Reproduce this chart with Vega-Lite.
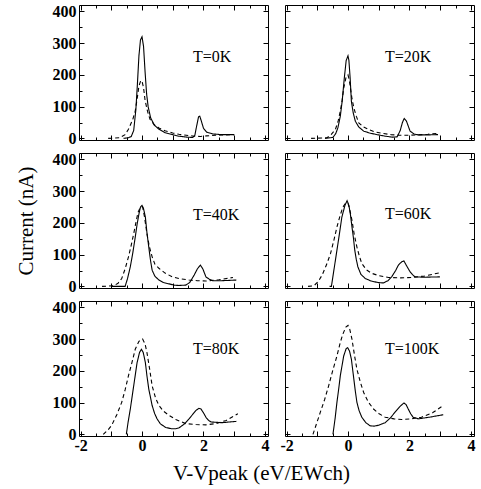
{
"$schema": "https://vega.github.io/schema/vega-lite/v6.json",
"padding": {"left": 15, "top": 3, "right": 5, "bottom": 5},
"autosize": {"type": "pad"},
"background": "white",
"config": {
  "font": "Times New Roman, Liberation Serif, DejaVu Serif, serif",
  "view": {"stroke": null},
  "text": {"font": "Times New Roman, Liberation Serif, DejaVu Serif, serif"},
  "axis": {"grid": false, "domainColor": "black", "domainWidth": 1, "tickColor": "black", "tickWidth": 1, "labelColor": "black", "labelFont": "Times New Roman, Liberation Serif, DejaVu Serif, serif", "labelFontSize": 16, "labelFontWeight": "bold", "labelOverlap": false, "labelBound": false, "labelFlush": false, "titleFont": "Times New Roman, Liberation Serif, DejaVu Serif, serif", "titleFontSize": 21, "titleFontWeight": "normal", "titleColor": "black"}
},
"datasets": {
  "labels": [
    {"T": "T=0K", "lx": 1.66, "ly": 256},
    {"T": "T=20K", "lx": 1.2, "ly": 256},
    {"T": "T=40K", "lx": 1.66, "ly": 225},
    {"T": "T=60K", "lx": 1.2, "ly": 228},
    {"T": "T=80K", "lx": 1.66, "ly": 269},
    {"T": "T=100K", "lx": 1.2, "ly": 269}
  ],
  "curves": [
    {"T":"T=0K","s":"solid","x":-0.6,"y":0},{"T":"T=0K","s":"solid","x":-0.45,"y":2},{"T":"T=0K","s":"solid","x":-0.35,"y":6},{"T":"T=0K","s":"solid","x":-0.27,"y":25},{"T":"T=0K","s":"solid","x":-0.2,"y":90},{"T":"T=0K","s":"solid","x":-0.15,"y":170},{"T":"T=0K","s":"solid","x":-0.1,"y":260},{"T":"T=0K","s":"solid","x":-0.05,"y":310},{"T":"T=0K","s":"solid","x":0,"y":320},{"T":"T=0K","s":"solid","x":0.05,"y":290},{"T":"T=0K","s":"solid","x":0.1,"y":210},{"T":"T=0K","s":"solid","x":0.15,"y":140},{"T":"T=0K","s":"solid","x":0.2,"y":100},{"T":"T=0K","s":"solid","x":0.28,"y":65},{"T":"T=0K","s":"solid","x":0.4,"y":42},{"T":"T=0K","s":"solid","x":0.55,"y":29},{"T":"T=0K","s":"solid","x":0.75,"y":18},{"T":"T=0K","s":"solid","x":1.0,"y":12},{"T":"T=0K","s":"solid","x":1.2,"y":7},{"T":"T=0K","s":"solid","x":1.45,"y":4},{"T":"T=0K","s":"solid","x":1.65,"y":3},{"T":"T=0K","s":"solid","x":1.72,"y":10},{"T":"T=0K","s":"solid","x":1.78,"y":40},{"T":"T=0K","s":"solid","x":1.84,"y":68},{"T":"T=0K","s":"solid","x":1.88,"y":70},{"T":"T=0K","s":"solid","x":1.93,"y":55},{"T":"T=0K","s":"solid","x":2.0,"y":32},{"T":"T=0K","s":"solid","x":2.1,"y":20},{"T":"T=0K","s":"solid","x":2.3,"y":14},{"T":"T=0K","s":"solid","x":2.6,"y":12},{"T":"T=0K","s":"solid","x":3.0,"y":12},
    {"T":"T=0K","s":"dashed","x":-1.1,"y":0},{"T":"T=0K","s":"dashed","x":-0.72,"y":2},{"T":"T=0K","s":"dashed","x":-0.55,"y":12},{"T":"T=0K","s":"dashed","x":-0.44,"y":29},{"T":"T=0K","s":"dashed","x":-0.3,"y":60},{"T":"T=0K","s":"dashed","x":-0.22,"y":86},{"T":"T=0K","s":"dashed","x":-0.15,"y":130},{"T":"T=0K","s":"dashed","x":-0.1,"y":165},{"T":"T=0K","s":"dashed","x":-0.04,"y":182},{"T":"T=0K","s":"dashed","x":0,"y":180},{"T":"T=0K","s":"dashed","x":0.05,"y":160},{"T":"T=0K","s":"dashed","x":0.1,"y":120},{"T":"T=0K","s":"dashed","x":0.18,"y":85},{"T":"T=0K","s":"dashed","x":0.26,"y":60},{"T":"T=0K","s":"dashed","x":0.4,"y":43},{"T":"T=0K","s":"dashed","x":0.55,"y":33},{"T":"T=0K","s":"dashed","x":0.75,"y":24},{"T":"T=0K","s":"dashed","x":1.0,"y":17},{"T":"T=0K","s":"dashed","x":1.2,"y":13},{"T":"T=0K","s":"dashed","x":1.44,"y":10},{"T":"T=0K","s":"dashed","x":1.7,"y":7},{"T":"T=0K","s":"dashed","x":1.9,"y":6},{"T":"T=0K","s":"dashed","x":2.1,"y":8},{"T":"T=0K","s":"dashed","x":2.4,"y":10},{"T":"T=0K","s":"dashed","x":2.7,"y":11},{"T":"T=0K","s":"dashed","x":3.0,"y":12},
    {"T":"T=20K","s":"solid","x":-0.75,"y":0},{"T":"T=20K","s":"solid","x":-0.5,"y":3},{"T":"T=20K","s":"solid","x":-0.46,"y":7},{"T":"T=20K","s":"solid","x":-0.4,"y":15},{"T":"T=20K","s":"solid","x":-0.33,"y":33},{"T":"T=20K","s":"solid","x":-0.25,"y":70},{"T":"T=20K","s":"solid","x":-0.19,"y":117},{"T":"T=20K","s":"solid","x":-0.12,"y":190},{"T":"T=20K","s":"solid","x":-0.06,"y":245},{"T":"T=20K","s":"solid","x":0,"y":260},{"T":"T=20K","s":"solid","x":0.03,"y":245},{"T":"T=20K","s":"solid","x":0.07,"y":190},{"T":"T=20K","s":"solid","x":0.11,"y":117},{"T":"T=20K","s":"solid","x":0.17,"y":80},{"T":"T=20K","s":"solid","x":0.24,"y":54},{"T":"T=20K","s":"solid","x":0.35,"y":36},{"T":"T=20K","s":"solid","x":0.51,"y":23},{"T":"T=20K","s":"solid","x":0.7,"y":17},{"T":"T=20K","s":"solid","x":0.89,"y":13},{"T":"T=20K","s":"solid","x":1.21,"y":7},{"T":"T=20K","s":"solid","x":1.45,"y":4},{"T":"T=20K","s":"solid","x":1.6,"y":5},{"T":"T=20K","s":"solid","x":1.7,"y":25},{"T":"T=20K","s":"solid","x":1.77,"y":50},{"T":"T=20K","s":"solid","x":1.83,"y":63},{"T":"T=20K","s":"solid","x":1.9,"y":55},{"T":"T=20K","s":"solid","x":2.02,"y":23},{"T":"T=20K","s":"solid","x":2.15,"y":14},{"T":"T=20K","s":"solid","x":2.29,"y":11},{"T":"T=20K","s":"solid","x":2.6,"y":11},{"T":"T=20K","s":"solid","x":2.93,"y":12},
    {"T":"T=20K","s":"dashed","x":-1.2,"y":0},{"T":"T=20K","s":"dashed","x":-0.68,"y":2},{"T":"T=20K","s":"dashed","x":-0.55,"y":12},{"T":"T=20K","s":"dashed","x":-0.41,"y":28},{"T":"T=20K","s":"dashed","x":-0.32,"y":55},{"T":"T=20K","s":"dashed","x":-0.25,"y":86},{"T":"T=20K","s":"dashed","x":-0.19,"y":120},{"T":"T=20K","s":"dashed","x":-0.14,"y":158},{"T":"T=20K","s":"dashed","x":-0.07,"y":190},{"T":"T=20K","s":"dashed","x":0,"y":200},{"T":"T=20K","s":"dashed","x":0.04,"y":185},{"T":"T=20K","s":"dashed","x":0.08,"y":158},{"T":"T=20K","s":"dashed","x":0.13,"y":125},{"T":"T=20K","s":"dashed","x":0.19,"y":96},{"T":"T=20K","s":"dashed","x":0.27,"y":70},{"T":"T=20K","s":"dashed","x":0.35,"y":49},{"T":"T=20K","s":"dashed","x":0.5,"y":36},{"T":"T=20K","s":"dashed","x":0.67,"y":28},{"T":"T=20K","s":"dashed","x":0.85,"y":21},{"T":"T=20K","s":"dashed","x":1.1,"y":16},{"T":"T=20K","s":"dashed","x":1.4,"y":12},{"T":"T=20K","s":"dashed","x":1.64,"y":10},{"T":"T=20K","s":"dashed","x":2.0,"y":10},{"T":"T=20K","s":"dashed","x":2.29,"y":11},{"T":"T=20K","s":"dashed","x":2.6,"y":13},{"T":"T=20K","s":"dashed","x":2.93,"y":16},
    {"T":"T=40K","s":"solid","x":-1.0,"y":0},{"T":"T=40K","s":"solid","x":-0.55,"y":0},{"T":"T=40K","s":"solid","x":-0.47,"y":25},{"T":"T=40K","s":"solid","x":-0.38,"y":62},{"T":"T=40K","s":"solid","x":-0.3,"y":105},{"T":"T=40K","s":"solid","x":-0.22,"y":155},{"T":"T=40K","s":"solid","x":-0.16,"y":195},{"T":"T=40K","s":"solid","x":-0.11,"y":223},{"T":"T=40K","s":"solid","x":-0.05,"y":250},{"T":"T=40K","s":"solid","x":0,"y":255},{"T":"T=40K","s":"solid","x":0.05,"y":245},{"T":"T=40K","s":"solid","x":0.11,"y":218},{"T":"T=40K","s":"solid","x":0.16,"y":170},{"T":"T=40K","s":"solid","x":0.22,"y":124},{"T":"T=40K","s":"solid","x":0.28,"y":80},{"T":"T=40K","s":"solid","x":0.33,"y":51},{"T":"T=40K","s":"solid","x":0.42,"y":32},{"T":"T=40K","s":"solid","x":0.55,"y":20},{"T":"T=40K","s":"solid","x":0.7,"y":12},{"T":"T=40K","s":"solid","x":0.88,"y":8},{"T":"T=40K","s":"solid","x":1.05,"y":4},{"T":"T=40K","s":"solid","x":1.2,"y":3},{"T":"T=40K","s":"solid","x":1.42,"y":4},{"T":"T=40K","s":"solid","x":1.55,"y":12},{"T":"T=40K","s":"solid","x":1.7,"y":36},{"T":"T=40K","s":"solid","x":1.8,"y":55},{"T":"T=40K","s":"solid","x":1.9,"y":67},{"T":"T=40K","s":"solid","x":1.98,"y":55},{"T":"T=40K","s":"solid","x":2.08,"y":30},{"T":"T=40K","s":"solid","x":2.2,"y":22},{"T":"T=40K","s":"solid","x":2.3,"y":18},{"T":"T=40K","s":"solid","x":2.6,"y":18},{"T":"T=40K","s":"solid","x":3.07,"y":20},
    {"T":"T=40K","s":"dashed","x":-1.3,"y":0},{"T":"T=40K","s":"dashed","x":-0.92,"y":2},{"T":"T=40K","s":"dashed","x":-0.78,"y":10},{"T":"T=40K","s":"dashed","x":-0.66,"y":25},{"T":"T=40K","s":"dashed","x":-0.55,"y":55},{"T":"T=40K","s":"dashed","x":-0.44,"y":93},{"T":"T=40K","s":"dashed","x":-0.35,"y":130},{"T":"T=40K","s":"dashed","x":-0.27,"y":166},{"T":"T=40K","s":"dashed","x":-0.2,"y":200},{"T":"T=40K","s":"dashed","x":-0.13,"y":233},{"T":"T=40K","s":"dashed","x":-0.05,"y":250},{"T":"T=40K","s":"dashed","x":0.02,"y":250},{"T":"T=40K","s":"dashed","x":0.08,"y":220},{"T":"T=40K","s":"dashed","x":0.16,"y":166},{"T":"T=40K","s":"dashed","x":0.24,"y":125},{"T":"T=40K","s":"dashed","x":0.33,"y":93},{"T":"T=40K","s":"dashed","x":0.42,"y":70},{"T":"T=40K","s":"dashed","x":0.55,"y":57},{"T":"T=40K","s":"dashed","x":0.75,"y":42},{"T":"T=40K","s":"dashed","x":0.99,"y":30},{"T":"T=40K","s":"dashed","x":1.25,"y":24},{"T":"T=40K","s":"dashed","x":1.53,"y":20},{"T":"T=40K","s":"dashed","x":1.8,"y":18},{"T":"T=40K","s":"dashed","x":2.08,"y":17},{"T":"T=40K","s":"dashed","x":2.5,"y":21},{"T":"T=40K","s":"dashed","x":2.96,"y":28},
    {"T":"T=60K","s":"solid","x":-0.6,"y":0},{"T":"T=60K","s":"solid","x":-0.54,"y":0},{"T":"T=60K","s":"solid","x":-0.45,"y":57},{"T":"T=60K","s":"solid","x":-0.36,"y":114},{"T":"T=60K","s":"solid","x":-0.28,"y":165},{"T":"T=60K","s":"solid","x":-0.2,"y":218},{"T":"T=60K","s":"solid","x":-0.1,"y":255},{"T":"T=60K","s":"solid","x":-0.03,"y":270},{"T":"T=60K","s":"solid","x":0.03,"y":255},{"T":"T=60K","s":"solid","x":0.08,"y":225},{"T":"T=60K","s":"solid","x":0.13,"y":187},{"T":"T=60K","s":"solid","x":0.18,"y":150},{"T":"T=60K","s":"solid","x":0.22,"y":114},{"T":"T=60K","s":"solid","x":0.27,"y":85},{"T":"T=60K","s":"solid","x":0.32,"y":62},{"T":"T=60K","s":"solid","x":0.42,"y":38},{"T":"T=60K","s":"solid","x":0.56,"y":25},{"T":"T=60K","s":"solid","x":0.75,"y":17},{"T":"T=60K","s":"solid","x":0.99,"y":12},{"T":"T=60K","s":"solid","x":1.15,"y":11},{"T":"T=60K","s":"solid","x":1.3,"y":18},{"T":"T=60K","s":"solid","x":1.42,"y":30},{"T":"T=60K","s":"solid","x":1.55,"y":50},{"T":"T=60K","s":"solid","x":1.64,"y":67},{"T":"T=60K","s":"solid","x":1.75,"y":78},{"T":"T=60K","s":"solid","x":1.82,"y":80},{"T":"T=60K","s":"solid","x":1.9,"y":66},{"T":"T=60K","s":"solid","x":2.02,"y":46},{"T":"T=60K","s":"solid","x":2.1,"y":37},{"T":"T=60K","s":"solid","x":2.18,"y":30},{"T":"T=60K","s":"solid","x":2.5,"y":29},{"T":"T=60K","s":"solid","x":2.99,"y":30},
    {"T":"T=60K","s":"dashed","x":-1.3,"y":0},{"T":"T=60K","s":"dashed","x":-1.11,"y":2},{"T":"T=60K","s":"dashed","x":-0.97,"y":15},{"T":"T=60K","s":"dashed","x":-0.84,"y":36},{"T":"T=60K","s":"dashed","x":-0.7,"y":68},{"T":"T=60K","s":"dashed","x":-0.57,"y":103},{"T":"T=60K","s":"dashed","x":-0.46,"y":145},{"T":"T=60K","s":"dashed","x":-0.36,"y":187},{"T":"T=60K","s":"dashed","x":-0.26,"y":222},{"T":"T=60K","s":"dashed","x":-0.17,"y":249},{"T":"T=60K","s":"dashed","x":-0.08,"y":262},{"T":"T=60K","s":"dashed","x":0,"y":262},{"T":"T=60K","s":"dashed","x":0.06,"y":240},{"T":"T=60K","s":"dashed","x":0.13,"y":208},{"T":"T=60K","s":"dashed","x":0.2,"y":165},{"T":"T=60K","s":"dashed","x":0.29,"y":124},{"T":"T=60K","s":"dashed","x":0.37,"y":95},{"T":"T=60K","s":"dashed","x":0.45,"y":72},{"T":"T=60K","s":"dashed","x":0.6,"y":52},{"T":"T=60K","s":"dashed","x":0.78,"y":41},{"T":"T=60K","s":"dashed","x":1.0,"y":34},{"T":"T=60K","s":"dashed","x":1.32,"y":28},{"T":"T=60K","s":"dashed","x":1.7,"y":27},{"T":"T=60K","s":"dashed","x":2.07,"y":28},{"T":"T=60K","s":"dashed","x":2.5,"y":33},{"T":"T=60K","s":"dashed","x":2.99,"y":43},
    {"T":"T=80K","s":"solid","x":-0.51,"y":0},{"T":"T=80K","s":"solid","x":-0.45,"y":40},{"T":"T=80K","s":"solid","x":-0.38,"y":80},{"T":"T=80K","s":"solid","x":-0.27,"y":153},{"T":"T=80K","s":"solid","x":-0.16,"y":226},{"T":"T=80K","s":"solid","x":-0.08,"y":258},{"T":"T=80K","s":"solid","x":-0.02,"y":268},{"T":"T=80K","s":"solid","x":0.04,"y":258},{"T":"T=80K","s":"solid","x":0.11,"y":226},{"T":"T=80K","s":"solid","x":0.16,"y":185},{"T":"T=80K","s":"solid","x":0.22,"y":143},{"T":"T=80K","s":"solid","x":0.33,"y":91},{"T":"T=80K","s":"solid","x":0.41,"y":66},{"T":"T=80K","s":"solid","x":0.49,"y":49},{"T":"T=80K","s":"solid","x":0.6,"y":33},{"T":"T=80K","s":"solid","x":0.77,"y":22},{"T":"T=80K","s":"solid","x":0.95,"y":18},{"T":"T=80K","s":"solid","x":1.1,"y":18},{"T":"T=80K","s":"solid","x":1.21,"y":21},{"T":"T=80K","s":"solid","x":1.38,"y":33},{"T":"T=80K","s":"solid","x":1.53,"y":49},{"T":"T=80K","s":"solid","x":1.65,"y":63},{"T":"T=80K","s":"solid","x":1.75,"y":75},{"T":"T=80K","s":"solid","x":1.85,"y":82},{"T":"T=80K","s":"solid","x":1.92,"y":80},{"T":"T=80K","s":"solid","x":2.0,"y":68},{"T":"T=80K","s":"solid","x":2.08,"y":54},{"T":"T=80K","s":"solid","x":2.17,"y":44},{"T":"T=80K","s":"solid","x":2.25,"y":39},{"T":"T=80K","s":"solid","x":2.6,"y":37},{"T":"T=80K","s":"solid","x":3.07,"y":41},
    {"T":"T=80K","s":"dashed","x":-1.26,"y":0},{"T":"T=80K","s":"dashed","x":-1.1,"y":15},{"T":"T=80K","s":"dashed","x":-0.99,"y":28},{"T":"T=80K","s":"dashed","x":-0.82,"y":62},{"T":"T=80K","s":"dashed","x":-0.66,"y":101},{"T":"T=80K","s":"dashed","x":-0.55,"y":140},{"T":"T=80K","s":"dashed","x":-0.44,"y":185},{"T":"T=80K","s":"dashed","x":-0.33,"y":225},{"T":"T=80K","s":"dashed","x":-0.22,"y":268},{"T":"T=80K","s":"dashed","x":-0.1,"y":293},{"T":"T=80K","s":"dashed","x":0.02,"y":300},{"T":"T=80K","s":"dashed","x":0.1,"y":285},{"T":"T=80K","s":"dashed","x":0.16,"y":258},{"T":"T=80K","s":"dashed","x":0.25,"y":205},{"T":"T=80K","s":"dashed","x":0.33,"y":153},{"T":"T=80K","s":"dashed","x":0.44,"y":115},{"T":"T=80K","s":"dashed","x":0.55,"y":91},{"T":"T=80K","s":"dashed","x":0.7,"y":73},{"T":"T=80K","s":"dashed","x":0.88,"y":60},{"T":"T=80K","s":"dashed","x":1.1,"y":47},{"T":"T=80K","s":"dashed","x":1.42,"y":34},{"T":"T=80K","s":"dashed","x":1.75,"y":31},{"T":"T=80K","s":"dashed","x":2.08,"y":30},{"T":"T=80K","s":"dashed","x":2.4,"y":34},{"T":"T=80K","s":"dashed","x":2.74,"y":44},{"T":"T=80K","s":"dashed","x":3.12,"y":65},
    {"T":"T=100K","s":"solid","x":-0.49,"y":0},{"T":"T=100K","s":"solid","x":-0.42,"y":50},{"T":"T=100K","s":"solid","x":-0.36,"y":101},{"T":"T=100K","s":"solid","x":-0.3,"y":145},{"T":"T=100K","s":"solid","x":-0.25,"y":185},{"T":"T=100K","s":"solid","x":-0.14,"y":247},{"T":"T=100K","s":"solid","x":-0.06,"y":270},{"T":"T=100K","s":"solid","x":-0.01,"y":273},{"T":"T=100K","s":"solid","x":0.05,"y":262},{"T":"T=100K","s":"solid","x":0.11,"y":237},{"T":"T=100K","s":"solid","x":0.19,"y":174},{"T":"T=100K","s":"solid","x":0.24,"y":135},{"T":"T=100K","s":"solid","x":0.29,"y":101},{"T":"T=100K","s":"solid","x":0.36,"y":75},{"T":"T=100K","s":"solid","x":0.45,"y":54},{"T":"T=100K","s":"solid","x":0.58,"y":37},{"T":"T=100K","s":"solid","x":0.72,"y":27},{"T":"T=100K","s":"solid","x":0.85,"y":26},{"T":"T=100K","s":"solid","x":1.0,"y":29},{"T":"T=100K","s":"solid","x":1.21,"y":37},{"T":"T=100K","s":"solid","x":1.38,"y":52},{"T":"T=100K","s":"solid","x":1.53,"y":70},{"T":"T=100K","s":"solid","x":1.68,"y":87},{"T":"T=100K","s":"solid","x":1.82,"y":99},{"T":"T=100K","s":"solid","x":1.89,"y":94},{"T":"T=100K","s":"solid","x":1.96,"y":80},{"T":"T=100K","s":"solid","x":2.04,"y":65},{"T":"T=100K","s":"solid","x":2.12,"y":54},{"T":"T=100K","s":"solid","x":2.29,"y":49},{"T":"T=100K","s":"solid","x":2.7,"y":55},{"T":"T=100K","s":"solid","x":3.1,"y":62},
    {"T":"T=100K","s":"dashed","x":-1.14,"y":0},{"T":"T=100K","s":"dashed","x":-1.02,"y":35},{"T":"T=100K","s":"dashed","x":-0.9,"y":70},{"T":"T=100K","s":"dashed","x":-0.76,"y":110},{"T":"T=100K","s":"dashed","x":-0.63,"y":153},{"T":"T=100K","s":"dashed","x":-0.5,"y":200},{"T":"T=100K","s":"dashed","x":-0.36,"y":247},{"T":"T=100K","s":"dashed","x":-0.25,"y":290},{"T":"T=100K","s":"dashed","x":-0.17,"y":315},{"T":"T=100K","s":"dashed","x":-0.07,"y":338},{"T":"T=100K","s":"dashed","x":0,"y":343},{"T":"T=100K","s":"dashed","x":0.06,"y":330},{"T":"T=100K","s":"dashed","x":0.13,"y":299},{"T":"T=100K","s":"dashed","x":0.21,"y":250},{"T":"T=100K","s":"dashed","x":0.29,"y":205},{"T":"T=100K","s":"dashed","x":0.4,"y":165},{"T":"T=100K","s":"dashed","x":0.51,"y":132},{"T":"T=100K","s":"dashed","x":0.66,"y":102},{"T":"T=100K","s":"dashed","x":0.83,"y":80},{"T":"T=100K","s":"dashed","x":1.0,"y":66},{"T":"T=100K","s":"dashed","x":1.21,"y":54},{"T":"T=100K","s":"dashed","x":1.5,"y":49},{"T":"T=100K","s":"dashed","x":1.75,"y":47},{"T":"T=100K","s":"dashed","x":2.05,"y":49},{"T":"T=100K","s":"dashed","x":2.39,"y":54},{"T":"T=100K","s":"dashed","x":2.75,"y":68},{"T":"T=100K","s":"dashed","x":3.1,"y":91}
  ]
},
"columns": 2,
"spacing": {"row": 13, "column": 17},
"bounds": "flush",
"concat": [
  {"width": 189, "height": 135, "resolve": {"axis": {"x": "independent", "y": "independent"}},
   "layer": [
    {"data": {"name": "curves"}, "transform": [{"filter": "datum.T == 'T=0K'"}],
     "mark": {"type": "line", "color": "black", "strokeWidth": 1.1, "clip": true},
     "encoding": {
      "x": {"field": "x", "type": "quantitative", "scale": {"domain": [-2.05, 4.1], "nice": false, "zero": false}, "axis": {"orient": "bottom", "title": null, "labels": false, "values": [-2,-1.5,-1,-0.5,0,0.5,1,1.5,2,2.5,3,3.5,4], "tickSize": {"condition": {"test": "datum.value % 1 == 0", "value": -5}, "value": -3}}},
      "y": {"field": "y", "type": "quantitative", "scale": {"domain": [-5, 420], "nice": false, "zero": false}, "axis": {"orient": "left", "title": null, "labelPadding": 8, "values": [0,50,100,150,200,250,300,350,400], "labelExpr": "datum.value % 100 == 0 ? toString(datum.value) : ''", "tickSize": {"condition": {"test": "datum.value % 100 == 0", "value": -5}, "value": -3}}},
      "strokeDash": {"field": "s", "type": "nominal", "scale": {"domain": ["solid", "dashed"], "range": [[1, 0], [4, 3]]}, "legend": null}
     }},
    {"data": {"name": "labels"}, "transform": [{"filter": "datum.T == 'T=0K'"}],
     "mark": {"type": "text", "align": "left", "baseline": "middle", "fontSize": 16, "color": "black"},
     "encoding": {
      "x": {"field": "lx", "type": "quantitative", "scale": {"domain": [-2.05, 4.1], "nice": false, "zero": false}, "axis": {"orient": "top", "title": null, "labels": false, "values": [-2,-1.5,-1,-0.5,0,0.5,1,1.5,2,2.5,3,3.5,4], "tickSize": {"condition": {"test": "datum.value % 1 == 0", "value": -5}, "value": -3}}},
      "y": {"field": "ly", "type": "quantitative", "scale": {"domain": [-5, 420], "nice": false, "zero": false}, "axis": {"orient": "right", "title": null, "labels": false, "values": [0,50,100,150,200,250,300,350,400], "tickSize": {"condition": {"test": "datum.value % 100 == 0", "value": -5}, "value": -3}}},
      "text": {"field": "T"}
     }}
   ]},
  {"width": 189, "height": 135, "resolve": {"axis": {"x": "independent", "y": "independent"}},
   "layer": [
    {"data": {"name": "curves"}, "transform": [{"filter": "datum.T == 'T=20K'"}],
     "mark": {"type": "line", "color": "black", "strokeWidth": 1.1, "clip": true},
     "encoding": {
      "x": {"field": "x", "type": "quantitative", "scale": {"domain": [-2.05, 4.1], "nice": false, "zero": false}, "axis": {"orient": "bottom", "title": null, "labels": false, "values": [-2,-1.5,-1,-0.5,0,0.5,1,1.5,2,2.5,3,3.5,4], "tickSize": {"condition": {"test": "datum.value % 1 == 0", "value": -5}, "value": -3}}},
      "y": {"field": "y", "type": "quantitative", "scale": {"domain": [-5, 420], "nice": false, "zero": false}, "axis": {"orient": "left", "title": null, "labels": false, "values": [0,50,100,150,200,250,300,350,400], "tickSize": {"condition": {"test": "datum.value % 100 == 0", "value": -5}, "value": -3}}},
      "strokeDash": {"field": "s", "type": "nominal", "scale": {"domain": ["solid", "dashed"], "range": [[1, 0], [4, 3]]}, "legend": null}
     }},
    {"data": {"name": "labels"}, "transform": [{"filter": "datum.T == 'T=20K'"}],
     "mark": {"type": "text", "align": "left", "baseline": "middle", "fontSize": 16, "color": "black"},
     "encoding": {
      "x": {"field": "lx", "type": "quantitative", "scale": {"domain": [-2.05, 4.1], "nice": false, "zero": false}, "axis": {"orient": "top", "title": null, "labels": false, "values": [-2,-1.5,-1,-0.5,0,0.5,1,1.5,2,2.5,3,3.5,4], "tickSize": {"condition": {"test": "datum.value % 1 == 0", "value": -5}, "value": -3}}},
      "y": {"field": "ly", "type": "quantitative", "scale": {"domain": [-5, 420], "nice": false, "zero": false}, "axis": {"orient": "right", "title": null, "labels": false, "values": [0,50,100,150,200,250,300,350,400], "tickSize": {"condition": {"test": "datum.value % 100 == 0", "value": -5}, "value": -3}}},
      "text": {"field": "T"}
     }}
   ]},
  {"width": 189, "height": 135, "resolve": {"axis": {"x": "independent", "y": "independent"}},
   "layer": [
    {"data": {"name": "curves"}, "transform": [{"filter": "datum.T == 'T=40K'"}],
     "mark": {"type": "line", "color": "black", "strokeWidth": 1.1, "clip": true},
     "encoding": {
      "x": {"field": "x", "type": "quantitative", "scale": {"domain": [-2.05, 4.1], "nice": false, "zero": false}, "axis": {"orient": "bottom", "title": null, "labels": false, "values": [-2,-1.5,-1,-0.5,0,0.5,1,1.5,2,2.5,3,3.5,4], "tickSize": {"condition": {"test": "datum.value % 1 == 0", "value": -5}, "value": -3}}},
      "y": {"field": "y", "type": "quantitative", "scale": {"domain": [-5, 420], "nice": false, "zero": false}, "axis": {"orient": "left", "title": "Current  (nA)", "titlePadding": 16, "labelPadding": 8, "values": [0,50,100,150,200,250,300,350,400], "labelExpr": "datum.value % 100 == 0 ? toString(datum.value) : ''", "tickSize": {"condition": {"test": "datum.value % 100 == 0", "value": -5}, "value": -3}}},
      "strokeDash": {"field": "s", "type": "nominal", "scale": {"domain": ["solid", "dashed"], "range": [[1, 0], [4, 3]]}, "legend": null}
     }},
    {"data": {"name": "labels"}, "transform": [{"filter": "datum.T == 'T=40K'"}],
     "mark": {"type": "text", "align": "left", "baseline": "middle", "fontSize": 16, "color": "black"},
     "encoding": {
      "x": {"field": "lx", "type": "quantitative", "scale": {"domain": [-2.05, 4.1], "nice": false, "zero": false}, "axis": {"orient": "top", "title": null, "labels": false, "values": [-2,-1.5,-1,-0.5,0,0.5,1,1.5,2,2.5,3,3.5,4], "tickSize": {"condition": {"test": "datum.value % 1 == 0", "value": -5}, "value": -3}}},
      "y": {"field": "ly", "type": "quantitative", "scale": {"domain": [-5, 420], "nice": false, "zero": false}, "axis": {"orient": "right", "title": null, "labels": false, "values": [0,50,100,150,200,250,300,350,400], "tickSize": {"condition": {"test": "datum.value % 100 == 0", "value": -5}, "value": -3}}},
      "text": {"field": "T"}
     }}
   ]},
  {"width": 189, "height": 135, "resolve": {"axis": {"x": "independent", "y": "independent"}},
   "layer": [
    {"data": {"name": "curves"}, "transform": [{"filter": "datum.T == 'T=60K'"}],
     "mark": {"type": "line", "color": "black", "strokeWidth": 1.1, "clip": true},
     "encoding": {
      "x": {"field": "x", "type": "quantitative", "scale": {"domain": [-2.05, 4.1], "nice": false, "zero": false}, "axis": {"orient": "bottom", "title": null, "labels": false, "values": [-2,-1.5,-1,-0.5,0,0.5,1,1.5,2,2.5,3,3.5,4], "tickSize": {"condition": {"test": "datum.value % 1 == 0", "value": -5}, "value": -3}}},
      "y": {"field": "y", "type": "quantitative", "scale": {"domain": [-5, 420], "nice": false, "zero": false}, "axis": {"orient": "left", "title": null, "labels": false, "values": [0,50,100,150,200,250,300,350,400], "tickSize": {"condition": {"test": "datum.value % 100 == 0", "value": -5}, "value": -3}}},
      "strokeDash": {"field": "s", "type": "nominal", "scale": {"domain": ["solid", "dashed"], "range": [[1, 0], [4, 3]]}, "legend": null}
     }},
    {"data": {"name": "labels"}, "transform": [{"filter": "datum.T == 'T=60K'"}],
     "mark": {"type": "text", "align": "left", "baseline": "middle", "fontSize": 16, "color": "black"},
     "encoding": {
      "x": {"field": "lx", "type": "quantitative", "scale": {"domain": [-2.05, 4.1], "nice": false, "zero": false}, "axis": {"orient": "top", "title": null, "labels": false, "values": [-2,-1.5,-1,-0.5,0,0.5,1,1.5,2,2.5,3,3.5,4], "tickSize": {"condition": {"test": "datum.value % 1 == 0", "value": -5}, "value": -3}}},
      "y": {"field": "ly", "type": "quantitative", "scale": {"domain": [-5, 420], "nice": false, "zero": false}, "axis": {"orient": "right", "title": null, "labels": false, "values": [0,50,100,150,200,250,300,350,400], "tickSize": {"condition": {"test": "datum.value % 100 == 0", "value": -5}, "value": -3}}},
      "text": {"field": "T"}
     }}
   ]},
  {"width": 189, "height": 135, "resolve": {"axis": {"x": "independent", "y": "independent"}},
   "layer": [
    {"data": {"name": "curves"}, "transform": [{"filter": "datum.T == 'T=80K'"}],
     "mark": {"type": "line", "color": "black", "strokeWidth": 1.1, "clip": true},
     "encoding": {
      "x": {"field": "x", "type": "quantitative", "scale": {"domain": [-2.05, 4.1], "nice": false, "zero": false}, "axis": {"orient": "bottom", "title": "V-Vpeak (eV/EWch)", "titleX": 182, "titleAlign": "center", "titlePadding": 7, "labelPadding": 6, "values": [-2,-1.5,-1,-0.5,0,0.5,1,1.5,2,2.5,3,3.5,4], "labelExpr": "datum.value % 2 == 0 ? toString(datum.value) : ''", "tickSize": {"condition": {"test": "datum.value % 1 == 0", "value": -5}, "value": -3}}},
      "y": {"field": "y", "type": "quantitative", "scale": {"domain": [-5, 420], "nice": false, "zero": false}, "axis": {"orient": "left", "title": null, "labelPadding": 8, "values": [0,50,100,150,200,250,300,350,400], "labelExpr": "datum.value % 100 == 0 ? toString(datum.value) : ''", "tickSize": {"condition": {"test": "datum.value % 100 == 0", "value": -5}, "value": -3}}},
      "strokeDash": {"field": "s", "type": "nominal", "scale": {"domain": ["solid", "dashed"], "range": [[1, 0], [4, 3]]}, "legend": null}
     }},
    {"data": {"name": "labels"}, "transform": [{"filter": "datum.T == 'T=80K'"}],
     "mark": {"type": "text", "align": "left", "baseline": "middle", "fontSize": 16, "color": "black"},
     "encoding": {
      "x": {"field": "lx", "type": "quantitative", "scale": {"domain": [-2.05, 4.1], "nice": false, "zero": false}, "axis": {"orient": "top", "title": null, "labels": false, "values": [-2,-1.5,-1,-0.5,0,0.5,1,1.5,2,2.5,3,3.5,4], "tickSize": {"condition": {"test": "datum.value % 1 == 0", "value": -5}, "value": -3}}},
      "y": {"field": "ly", "type": "quantitative", "scale": {"domain": [-5, 420], "nice": false, "zero": false}, "axis": {"orient": "right", "title": null, "labels": false, "values": [0,50,100,150,200,250,300,350,400], "tickSize": {"condition": {"test": "datum.value % 100 == 0", "value": -5}, "value": -3}}},
      "text": {"field": "T"}
     }}
   ]},
  {"width": 189, "height": 135, "resolve": {"axis": {"x": "independent", "y": "independent"}},
   "layer": [
    {"data": {"name": "curves"}, "transform": [{"filter": "datum.T == 'T=100K'"}],
     "mark": {"type": "line", "color": "black", "strokeWidth": 1.1, "clip": true},
     "encoding": {
      "x": {"field": "x", "type": "quantitative", "scale": {"domain": [-2.05, 4.1], "nice": false, "zero": false}, "axis": {"orient": "bottom", "title": null, "labelPadding": 6, "values": [-2,-1.5,-1,-0.5,0,0.5,1,1.5,2,2.5,3,3.5,4], "labelExpr": "datum.value % 2 == 0 ? toString(datum.value) : ''", "tickSize": {"condition": {"test": "datum.value % 1 == 0", "value": -5}, "value": -3}}},
      "y": {"field": "y", "type": "quantitative", "scale": {"domain": [-5, 420], "nice": false, "zero": false}, "axis": {"orient": "left", "title": null, "labels": false, "values": [0,50,100,150,200,250,300,350,400], "tickSize": {"condition": {"test": "datum.value % 100 == 0", "value": -5}, "value": -3}}},
      "strokeDash": {"field": "s", "type": "nominal", "scale": {"domain": ["solid", "dashed"], "range": [[1, 0], [4, 3]]}, "legend": null}
     }},
    {"data": {"name": "labels"}, "transform": [{"filter": "datum.T == 'T=100K'"}],
     "mark": {"type": "text", "align": "left", "baseline": "middle", "fontSize": 16, "color": "black"},
     "encoding": {
      "x": {"field": "lx", "type": "quantitative", "scale": {"domain": [-2.05, 4.1], "nice": false, "zero": false}, "axis": {"orient": "top", "title": null, "labels": false, "values": [-2,-1.5,-1,-0.5,0,0.5,1,1.5,2,2.5,3,3.5,4], "tickSize": {"condition": {"test": "datum.value % 1 == 0", "value": -5}, "value": -3}}},
      "y": {"field": "ly", "type": "quantitative", "scale": {"domain": [-5, 420], "nice": false, "zero": false}, "axis": {"orient": "right", "title": null, "labels": false, "values": [0,50,100,150,200,250,300,350,400], "tickSize": {"condition": {"test": "datum.value % 100 == 0", "value": -5}, "value": -3}}},
      "text": {"field": "T"}
     }}
   ]}
]
}
